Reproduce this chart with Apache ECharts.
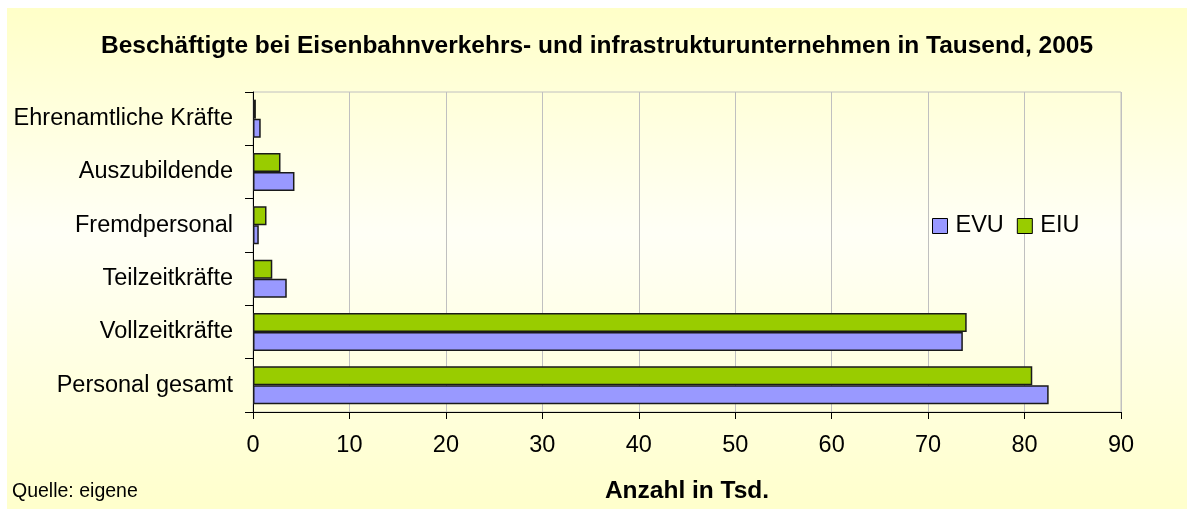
<!DOCTYPE html>
<html>
<head>
<meta charset="utf-8">
<script src="https://cdn.jsdelivr.net/npm/echarts@6/dist/echarts.min.js"></script>
<style>
  html, body { margin: 0; padding: 0; background: #fff; }
  #chart { position: absolute; left: 7px; top: 8px; width: 1180px; height: 501px; }
</style>
</head>
<body>
<div id="chart"></div>
<script>
// categories from bottom to top (category axis starts at the bottom)
var categories = ['Personal gesamt', 'Vollzeitkräfte', 'Teilzeitkräfte', 'Fremdpersonal', 'Auszubildende', 'Ehrenamtliche Kräfte'];
var evu = [82.5, 73.6, 3.5, 0.6, 4.3, 0.8];
var eiu = [80.8, 74.0, 2.0, 1.4, 2.85, 0.3];
var xTicks = [0, 10, 20, 30, 40, 50, 60, 70, 80, 90];

var font = 'Liberation Sans, Arial, sans-serif';

var option = {
  backgroundColor: {
    type: 'linear', x: 0, y: 0, x2: 0, y2: 1,
    colorStops: [
      { offset: 0, color: '#FFFFC8' },
      { offset: 0.45, color: '#FFFFF6' },
      { offset: 1, color: '#FFFFCC' }
    ]
  },
  title: {
    text: 'Beschäftigte bei Eisenbahnverkehrs- und infrastrukturunternehmen in Tausend, 2005',
    left: 'center',
    top: 21,
    textStyle: { fontFamily: font, fontSize: 24.5, fontWeight: 'bold', color: '#000' }
  },
  legend: {
    data: ['EVU', 'EIU'],
    left: 925,
    top: 206,
    padding: 0,
    itemWidth: 15,
    itemHeight: 15,
    itemGap: 13,
    icon: 'rect',
    textStyle: { fontFamily: font, fontSize: 23.5, color: '#000', padding: [0, 0, 0, 3] },
    itemStyle: { borderColor: '#000', borderWidth: 1 }
  },
  graphic: [{
    type: 'text',
    left: 5,
    top: 474,
    style: { text: 'Quelle: eigene', font: '19.5px ' + font, fill: '#000' }
  }],
  grid: {
    left: 246,
    right: 66,
    top: 84,
    bottom: 97,
    show: true,
    borderColor: '#C0C0C0',
    borderWidth: 1,
    backgroundColor: 'transparent'
  },
  xAxis: {
    type: 'value',
    min: 0,
    max: 90,
    interval: 10,
    name: 'Anzahl in Tsd.',
    nameLocation: 'middle',
    nameGap: 67,
    nameTextStyle: { fontFamily: font, fontSize: 24.5, fontWeight: 'bold', color: '#000' },
    axisLine: { show: true, lineStyle: { color: '#000', width: 1 } },
    axisTick: { show: true, length: 7, lineStyle: { color: '#000' } },
    axisLabel: {
      margin: 22,
      fontFamily: font, fontSize: 23.5, color: '#000',
      formatter: function (v) { return xTicks.indexOf(v) >= 0 ? String(v) : ''; }
    },
    splitLine: { show: true, lineStyle: { color: '#C0C0C0', width: 1 } }
  },
  yAxis: {
    type: 'category',
    data: categories,
    axisLine: { show: true, lineStyle: { color: '#000', width: 1 } },
    axisTick: { show: true, length: 8, lineStyle: { color: '#000' } },
    axisLabel: { margin: 20, fontFamily: font, fontSize: 23.5, color: '#000' },
    splitLine: { show: false }
  },
  // EIU first so it sits above EVU in each band, legend keeps EVU first
  series: [
    {
      name: 'EIU',
      type: 'bar',
      data: eiu,
      barWidth: 19,
      barGap: '0%',
      itemStyle: { color: '#99CC00', borderColor: '#1a1a1a', borderWidth: 1.5 }
    },
    {
      name: 'EVU',
      type: 'bar',
      data: evu,
      barWidth: 19,
      barGap: '0%',
      itemStyle: { color: '#9999FF', borderColor: '#1a1a1a', borderWidth: 1.5 }
    }
  ]
};

var chart = echarts.init(document.getElementById('chart'));
chart.setOption(option);
</script>
</body>
</html>
